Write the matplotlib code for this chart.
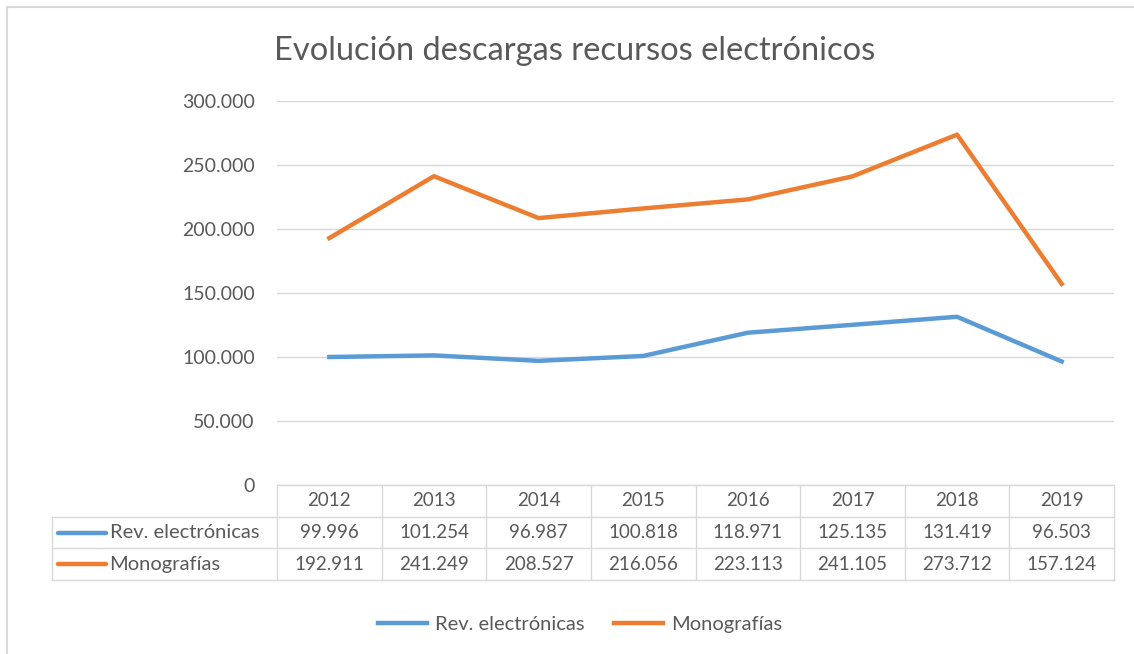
import matplotlib.pyplot as plt
from matplotlib.lines import Line2D

years = ["2012", "2013", "2014", "2015", "2016", "2017", "2018", "2019"]
rev_electronicas = [99996, 101254, 96987, 100818, 118971, 125135, 131419, 96503]
monografias = [192911, 241249, 208527, 216056, 223113, 241105, 273712, 157124]
series_names = ["Rev. electrónicas", "Monografías"]
y_ticks = [0, 50000, 100000, 150000, 200000, 250000, 300000]

BLUE = "#5B9BD5"
ORANGE = "#ED7D31"
TXT = "#595959"
GRID = "#D9D9D9"
FONT = "Lato"

W, H = 1134, 654


def fmt(v):
    if v == 0:
        return "0"
    return f"{v:,}".replace(",", ".")


def px(x0, y0, x1, y1):
    # pixel box -> figure fraction [left, bottom, width, height]
    return [x0 / W, 1 - y1 / H, (x1 - x0) / W, (y1 - y0) / H]


def main():
    plt.rcParams['font.family'] = [FONT, 'DejaVu Sans']
    fig = plt.figure(figsize=(W / 100, H / 100), dpi=100)

    # chart border (top and left visible)
    fig.add_artist(Line2D([7 / W, 7 / W], [0, 1 - 7 / H], transform=fig.transFigure, color="#D9D9D9", lw=1.5))
    fig.add_artist(Line2D([7 / W, 1], [1 - 7 / H, 1 - 7 / H], transform=fig.transFigure, color="#D9D9D9", lw=1.5))

    fig.text(575 / W, 1 - 51 / H, "Evolución descargas recursos electrónicos",
             ha="center", va="center", fontsize=23.5, color=TXT)

    # main plot
    ax = fig.add_axes(px(277, 101, 1114, 485))
    x = [i + 0.5 for i in range(len(years))]
    ax.plot(x, rev_electronicas, color=BLUE, lw=3.2, solid_joinstyle="round")
    ax.plot(x, monografias, color=ORANGE, lw=3.2, solid_joinstyle="round")
    ax.set_xlim(0, len(years))
    ax.set_ylim(0, 300000)
    ax.set_yticks(y_ticks)
    ax.set_yticklabels([fmt(v) for v in y_ticks], color=TXT, fontsize=14)
    ax.yaxis.grid(True, color=GRID, lw=1)
    ax.set_axisbelow(True)
    ax.set_xticks([])
    ax.tick_params(axis="y", length=0, pad=16)
    for s in ax.spines.values():
        s.set_visible(False)

    # data table
    label_w = 225 / 104.6
    tax = fig.add_axes(px(52, 485, 1114, 580))
    tax.set_xlim(-label_w, len(years))
    tax.set_ylim(3, 0)
    tax.axis("off")
    n = len(years)
    lk = dict(color=GRID, lw=1, clip_on=False)
    tax.plot([0, n], [0, 0], **lk)
    for r in (1, 2, 3):
        tax.plot([-label_w, n], [r, r], **lk)
    for c in range(n + 1):
        tax.plot([c, c], [0, 3], **lk)
    tax.plot([-label_w, -label_w], [1, 3], **lk)

    for i, yr in enumerate(years):
        tax.text(i + 0.5, 0.5, yr, ha="center", va="center", fontsize=13.5, color=TXT)
        tax.text(i + 0.5, 1.5, fmt(rev_electronicas[i]), ha="center", va="center", fontsize=13.5, color=TXT)
        tax.text(i + 0.5, 2.5, fmt(monografias[i]), ha="center", va="center", fontsize=13.5, color=TXT)

    for r, (name, col) in enumerate(zip(series_names, [BLUE, ORANGE])):
        yy = r + 1.5
        tax.plot([-label_w + 0.06, -label_w + 0.52], [yy, yy], color=col, lw=3.2,
                 solid_capstyle="round", clip_on=False)
        tax.text(-label_w + 0.55, yy, name, ha="left", va="center", fontsize=14.5, color=TXT)

    # legend
    handles = [Line2D([], [], color=BLUE, lw=3.2), Line2D([], [], color=ORANGE, lw=3.2)]
    fig.legend(handles, series_names, loc="center", bbox_to_anchor=(580 / W, 1 - 624 / H),
               ncol=2, frameon=False, fontsize=14.5, labelcolor=TXT,
               handlelength=2.4, handletextpad=0.4, columnspacing=1.5)

    fig.savefig("out.png", dpi=100)


if __name__ == '__main__':
    main()
